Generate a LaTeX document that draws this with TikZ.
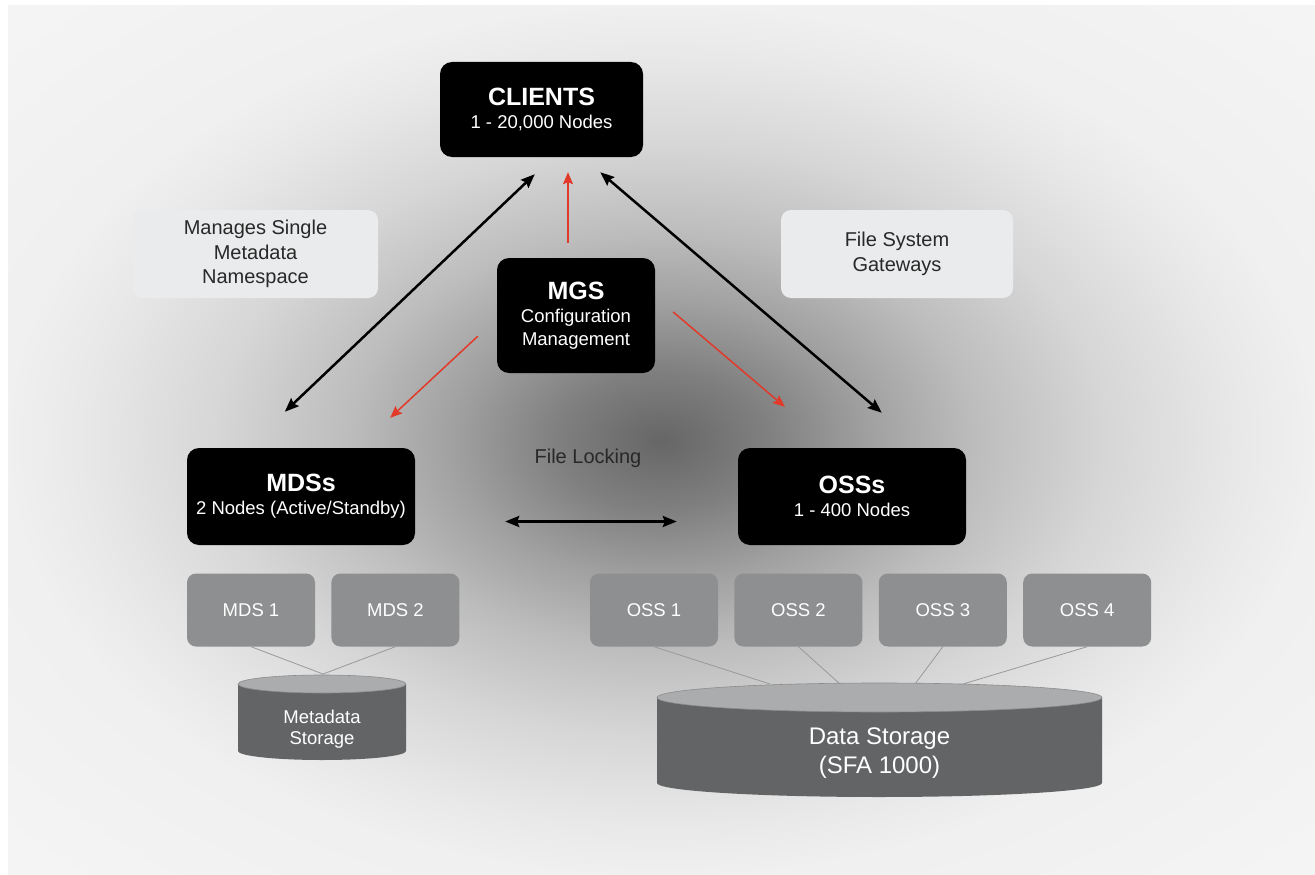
\documentclass[tikz,border=0pt]{standalone}
\usepackage{fontspec}
\setmainfont{Liberation Sans}
\usetikzlibrary{positioning,arrows.meta}

\definecolor{rojo}{RGB}{226,58,42}
\definecolor{caja}{RGB}{234,235,236}
\definecolor{gris}{RGB}{142,143,144}
\definecolor{cuerpo}{RGB}{98,100,102}
\definecolor{tapa}{RGB}{170,172,174}
\definecolor{texto}{RGB}{40,40,40}

\pgfdeclareradialshading{fondo}{\pgfpoint{0bp}{0bp}}{%
  color(0bp)=(black!60); color(4bp)=(black!50); color(8bp)=(black!37);
  color(12bp)=(black!26); color(17bp)=(black!16); color(22bp)=(black!9);
  color(25bp)=(black!6); color(36bp)=(black!4)}

\newcommand{\titulo}[1]{{\fontsize{25}{28}\selectfont\bfseries #1}}

\tikzset{
  negra/.style={fill=black, rounded corners=12pt, text=white, align=center,
    inner sep=0pt, font=\fontsize{18.5}{23}\selectfont},
  clara/.style={fill=caja, rounded corners=10pt, text=texto, align=center,
    inner sep=0pt, font=\fontsize{20}{24.5}\selectfont},
  server/.style={fill=gris, rounded corners=9pt, text=white,
    minimum width=128pt, minimum height=73pt, inner sep=0pt,
    font=\fontsize{18.5}{20}\selectfont},
  doble/.style={{Stealth[length=14pt,width=11pt,inset=2pt]}-{Stealth[length=14pt,width=11pt,inset=2pt]}, line width=2.5pt},
  roja/.style={-{Stealth[length=12pt,width=10pt,inset=2pt]}, draw=rojo, fill=rojo, line width=1.5pt},
  cable/.style={draw=black!40, line width=0.8pt},
}

\begin{document}
\begin{tikzpicture}[x=1pt, y=-1pt]
\useasboundingbox (0,0) rectangle (1315,875);

% Fondo
\shade[shading=fondo] (8,6) rectangle (1315,875);

% Cajas principales
\node[negra, minimum width=203pt, minimum height=95pt] (clients) at (541.5,109.5)
  {\titulo{CLIENTS}\\1 - 20,000 Nodes};
\node[clara, minimum width=245pt, minimum height=88pt] (manages) at (255.5,254)
  {Manages Single\\Metadata\\Namespace};
\node[clara, minimum width=232pt, minimum height=88pt] (gateways) at (897,254)
  {File System\\Gateways};
\node[negra, minimum width=158pt, minimum height=115pt] (mgs) at (576,315.5)
  {\titulo{MGS}\\Configuration\\Management};
\node[negra, minimum width=228pt, minimum height=97pt] (mds) at (301,496.5)
  {\titulo{MDSs}\\2 Nodes (Active/Standby)};
\node[negra, minimum width=228pt, minimum height=97pt] (oss) at (852,496.5)
  {\titulo{OSSs}\\1 - 400 Nodes};
\node[text=texto, font=\fontsize{20}{24}\selectfont] (locking) at (588,458) {File Locking};

% Servidores
\node[server] (mds1) at (251,610) {MDS 1};
\node[server, right=16pt of mds1] (mds2) {MDS 2};
\node[server] (oss1) at (654,610) {OSS 1};
\foreach \i [count=\j from 1] in {2,3,4}
  \node[server, right=16pt of oss\j] (oss\i) {OSS \i};

% Flechas
\draw[doble] ([xshift=98pt,yshift=36pt]mds.north west) -- ([xshift=95pt,yshift=-17pt]clients.south west);
\draw[doble] ([xshift=-43pt,yshift=-15pt]clients.south east) -- ([xshift=144pt,yshift=35pt]oss.north west);
\draw[roja] ([xshift=-8pt,yshift=15pt]mgs.north) -- ([xshift=26.5pt,yshift=-15pt]clients.south);
\draw[roja] ([xshift=-19pt,yshift=37pt]mgs.south west) -- ([xshift=-25pt,yshift=30pt]mds.north east);
\draw[roja] ([xshift=18pt,yshift=3.5pt]mgs.east) -- ([xshift=47pt,yshift=41pt]oss.north west);
\draw[doble] ([xshift=90pt,yshift=-25pt]mds.east) -- ([xshift=-61pt,yshift=-25pt]oss.west);

% Cables
\coordinate (mdtop) at (323,674);
\draw[cable] (mds1.south) -- (mdtop);
\draw[cable] (mds2.south) -- (mdtop);
\foreach \i/\x in {1/770,2/840,3/915,4/963}
  \draw[cable] (oss\i.south) -- (\x,684);

% Almacenamiento de metadatos
\fill[cuerpo] (238,684) -- (238,751) arc[start angle=180, end angle=0, x radius=84, y radius=9] -- (406,684) -- cycle;
\draw[fill=tapa, draw=black!45, line width=0.6pt] (322,684) ellipse[x radius=84, y radius=9];
\node[text=white, align=center, font=\fontsize{18.5}{21}\selectfont] (metadata) at (322,729) {Metadata\\Storage};

% Almacenamiento de datos
\fill[cuerpo] (657,697.5) -- (657,783) arc[start angle=180, end angle=0, x radius=222.5, y radius=14] -- (1102,697.5) -- cycle;
\draw[fill=tapa, draw=black!45, line width=0.6pt] (879.5,697.5) ellipse[x radius=222.5, y radius=14.5];
\node[text=white, align=center, font=\fontsize{24}{29}\selectfont] (datos) at (879.5,753) {Data Storage\\(SFA 1000)};
\end{tikzpicture}
\end{document}
